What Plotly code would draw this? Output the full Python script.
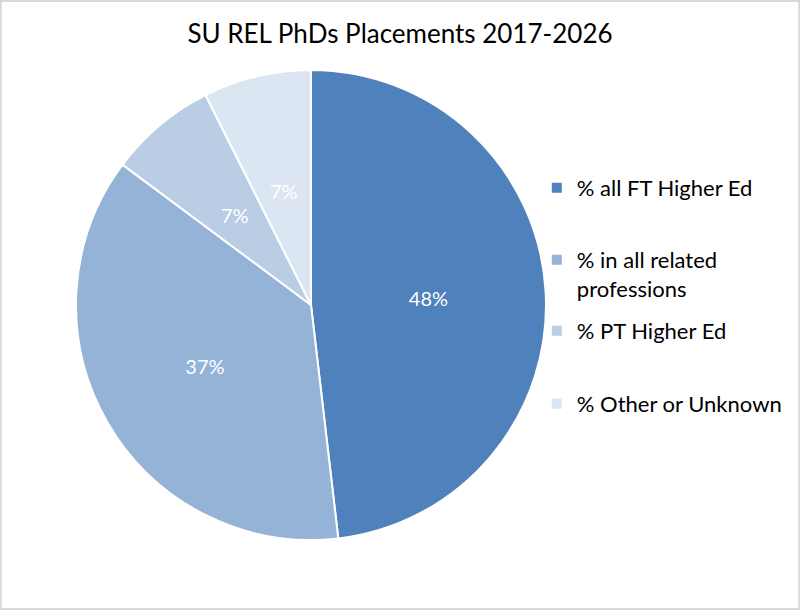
import numpy as np
import plotly.graph_objects as go

labels = [
    "% all FT Higher Ed",
    "% in all related<br>professions",
    "% PT Higher Ed",
    "% Other or Unknown",
]
counts = [13, 10, 2, 2]
colors = ["#4F81BD", "#95B3D7", "#B9CDE5", "#DCE6F2"]

W, H = 800, 610
T, B = 70, 70
plot_h = H - T - B
dom_x = [0.095, 0.6825]
radius_px = plot_h / 2

shares = np.array(counts) / sum(counts)
# plotly pushes the text of thin slices to the rim; label those ones ourselves
small = shares < 0.15
templates = ["" if s else "%{percent:.0%}" for s in small]

fig = go.Figure(
    go.Pie(
        labels=labels,
        values=counts,
        sort=False,
        direction="clockwise",
        rotation=0,
        marker=dict(colors=colors, line=dict(color="white", width=2)),
        texttemplate=templates,
        textposition="inside",
        insidetextorientation="horizontal",
        textfont=dict(color="white", size=20, family="Lato"),
        domain=dict(x=dom_x, y=[0, 1]),
        hoverinfo="label+percent",
        showlegend=False,
    )
)

cx = sum(dom_x) / 2
mid_angles = (np.cumsum(shares) - shares / 2) * 2 * np.pi
for share, ang, is_small in zip(shares, mid_angles, small):
    if not is_small:
        continue
    fig.add_annotation(
        x=cx + 0.5 * radius_px * np.sin(ang) / W,
        y=0.5 + 0.5 * radius_px * np.cos(ang) / plot_h,
        xref="paper",
        yref="paper",
        xanchor="center",
        yanchor="middle",
        text=f"{share:.0%}",
        showarrow=False,
        font=dict(color="white", size=20, family="Lato"),
    )

# legend entries: one small legend per slice so the spacing can follow the original
entry_tops = [167, 239, 310, 383]  # px from top of the page
legend_keys = ["legend", "legend2", "legend3", "legend4"]
for lab, col, key, top in zip(labels, colors, legend_keys, entry_tops):
    fig.add_trace(
        go.Scatter(
            x=[None],
            y=[None],
            mode="markers",
            name=lab,
            marker=dict(symbol="square", size=10, color=col),
            legend=key,
            hoverinfo="skip",
        )
    )
    fig.update_layout(
        {
            key: dict(
                x=0.671,
                xanchor="left",
                y=1 - (top - T) / plot_h,
                yanchor="top",
                valign="top",
                bgcolor="rgba(0,0,0,0)",
                font=dict(family="Lato", size=22, color="black"),
                itemclick=False,
                itemdoubleclick=False,
            )
        }
    )

fig.update_layout(
    width=W,
    height=H,
    margin=dict(l=0, r=0, t=T, b=B),
    paper_bgcolor="white",
    plot_bgcolor="white",
    xaxis=dict(visible=False),
    yaxis=dict(visible=False),
    title=dict(
        text="SU REL PhDs Placements 2017-2026",
        x=0.5,
        xanchor="center",
        y=0.96,
        font=dict(family="Lato", size=26, color="black"),
    ),
    font=dict(family="Lato"),
)

fig.add_shape(
    type="rect",
    xref="paper",
    yref="paper",
    x0=0.001,
    x1=0.999,
    y0=-B / plot_h + 0.002,
    y1=1 + T / plot_h - 0.002,
    line=dict(color="#D9D9D9", width=2),
    layer="above",
)

fig.write_html(
    "out.html",
    config={"displayModeBar": False},
    post_script="document.body.style.margin = '0';",
)
